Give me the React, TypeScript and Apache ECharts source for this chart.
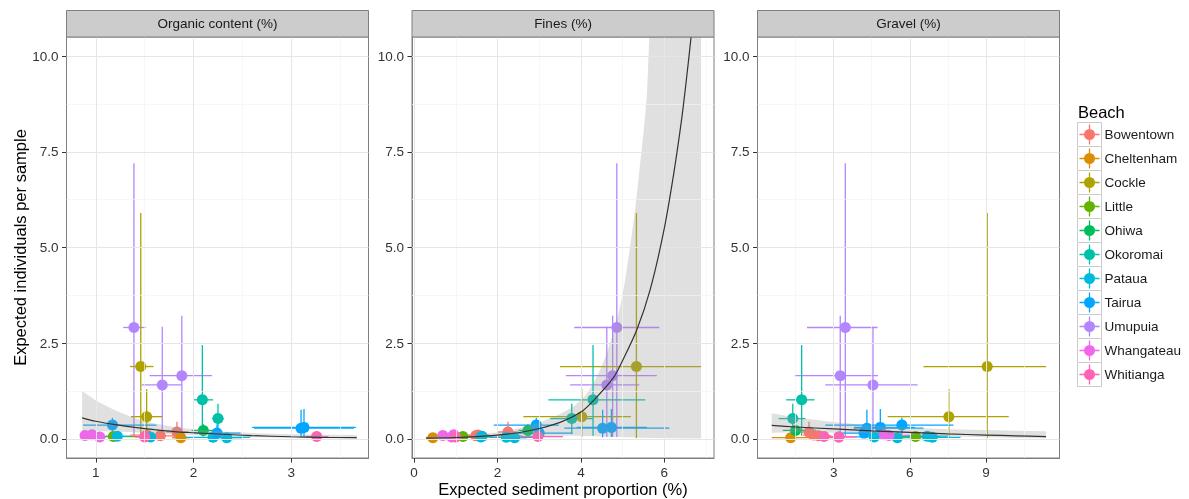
import React, { useEffect, useRef } from "react";
import * as echarts from "echarts";

// ---------- data ----------
const beaches = ["Bowentown", "Cheltenham", "Cockle", "Little", "Ohiwa", "Okoromai", "Pataua", "Tairua", "Umupuia", "Whangateau", "Whitianga"];
const beachColors = ["#F8766D", "#DB8E00", "#AEA200", "#64B200", "#00BD5C", "#00C1A7", "#00BADE", "#00A6FF", "#B385FF", "#EF67EB", "#FF63B6"];

const panelTitles = ["Organic content (%)", "Fines (%)", "Gravel (%)"];

// one entry per sample (same response in every panel)
const sampleBeach = [8, 8, 8, 2, 2, 5, 5, 7, 7, 7, 4, 0, 0, 0, 1, 9, 9, 9, 3, 6, 6, 6, 6, 7, 10, 10];
const sampleY = [2.91, 1.65, 1.41, 1.89, 0.58, 1.02, 0.53, 0.30, 0.28, 0.36, 0.22, 0.18, 0.10, 0.08, 0.03, 0.09, 0.11, 0.05, 0.06, 0.07, 0.04, 0.03, 0.05, 0.15, 0.06, 0.05];
const sampleYLo = [0.05, 0.05, 0.05, 0.02, 0.05, 0.08, 0.14, 0.05, 0.04, 0.12, 0.06, 0.04, 0.02, 0.02, 0.0, 0.03, 0.04, 0.01, 0.02, 0.02, 0.01, 0.0, 0.01, 0.04, 0.01, 0.01];
const sampleYHi = [7.2, 3.22, 2.93, 5.9, 1.3, 2.45, 0.92, 0.78, 0.76, 0.55, 0.38, 0.45, 0.2, 0.16, 0.06, 0.16, 0.2, 0.1, 0.1, 0.14, 0.08, 0.07, 0.1, 0.38, 0.12, 0.1];

const organicX = [1.39, 1.88, 1.68, 1.46, 1.52, 2.09, 2.25, 3.13, 3.1, 1.17, 2.1, 1.83, 1.52, 1.66, 1.87, 0.89, 0.96, 1.04, 1.18, 1.22, 2.2, 2.34, 1.56, 2.24, 3.26, 1.5];
const organicLo = [1.28, 1.55, 1.47, 1.35, 1.36, 2.0, 2.19, 2.6, 2.62, 0.87, 1.98, 1.72, 1.35, 1.5, 1.78, 0.85, 0.9, 0.98, 1.03, 1.1, 1.82, 2.2, 1.45, 2.0, 3.15, 1.4];
const organicHi = [1.51, 2.19, 1.88, 1.59, 1.68, 2.2, 2.31, 3.66, 3.64, 1.62, 2.22, 1.95, 1.7, 1.85, 1.96, 0.95, 1.02, 1.1, 1.54, 1.35, 2.58, 2.5, 1.7, 2.48, 3.38, 1.62];

const finesX = [4.86, 4.76, 4.62, 5.33, 4.02, 4.29, 3.78, 4.73, 4.52, 2.93, 2.73, 2.25, 1.53, 1.48, 0.45, 0.69, 0.95, 0.9, 1.17, 1.63, 2.21, 2.41, 1.6, 3.0, 2.97, 1.0];
const finesLo = [3.84, 3.64, 3.74, 3.5, 2.62, 3.22, 3.26, 3.9, 3.6, 1.91, 2.5, 2.0, 1.3, 1.22, 0.28, 0.6, 0.85, 0.8, 1.0, 1.45, 1.8, 2.1, 1.35, 2.5, 2.4, 0.8];
const finesHi = [5.88, 5.82, 5.4, 6.88, 5.2, 5.54, 4.29, 5.58, 6.12, 3.47, 2.95, 2.5, 1.8, 2.6, 0.52, 0.8, 1.05, 1.0, 1.35, 1.8, 3.0, 2.7, 1.9, 3.8, 3.57, 1.2];

const gravelX = [3.46, 3.26, 4.55, 9.05, 7.54, 1.74, 1.39, 4.84, 4.31, 5.69, 1.5, 2.03, 2.2, 2.4, 1.31, 5.18, 5.0, 3.2, 6.23, 6.69, 6.89, 5.51, 4.6, 4.2, 2.62, 3.21];
const gravelLo = [1.95, 1.46, 2.67, 6.54, 5.13, 1.13, 0.83, 3.8, 3.79, 2.67, 1.0, 1.7, 1.8, 1.9, 0.56, 4.5, 4.3, 2.7, 5.5, 5.9, 6.0, 4.8, 3.8, 3.2, 2.2, 2.6];
const gravelHi = [4.73, 4.75, 6.31, 11.37, 9.9, 2.25, 1.89, 6.2, 6.54, 7.72, 2.3, 2.4, 2.7, 2.9, 3.0, 6.0, 5.6, 3.8, 7.2, 7.5, 8.0, 6.3, 5.5, 5.3, 3.1, 3.9];

// fitted curves and confidence ribbons
const curve1X = [0.86, 1.0, 1.2, 1.4, 1.6, 1.8, 2.0, 2.3, 2.6, 3.0, 3.3, 3.67];
const curve1Y = [0.55, 0.46, 0.37, 0.3, 0.24, 0.19, 0.16, 0.12, 0.085, 0.055, 0.04, 0.03];
const band1Hi = [1.25, 1.0, 0.74, 0.54, 0.4, 0.31, 0.25, 0.19, 0.15, 0.12, 0.11, 0.1];
const band1Lo = [0.2, 0.2, 0.19, 0.17, 0.14, 0.12, 0.1, 0.07, 0.045, 0.025, 0.015, 0.008];

const curve2X = [0.29, 1.0, 1.5, 2.0, 2.5, 3.0, 3.5, 4.0, 4.3, 4.78, 5.0, 5.34, 5.66, 5.98, 6.22, 6.42, 6.54, 6.64, 6.7];
const curve2Y = [0.02, 0.035, 0.06, 0.1, 0.16, 0.27, 0.43, 0.7, 1.0, 1.6, 2.05, 2.85, 3.9, 5.4, 6.9, 8.4, 9.5, 10.5, 11.2];
const band2X = [0.29, 1.0, 1.5, 2.0, 2.5, 3.0, 3.5, 3.82, 4.1, 4.3, 4.46, 4.62, 4.78, 4.94, 5.06, 5.18, 5.3, 5.42, 5.5, 5.58, 5.64, 6.88];
const band2Hi = [0.06, 0.08, 0.11, 0.17, 0.27, 0.42, 0.65, 0.84, 1.12, 1.45, 1.8, 2.24, 2.78, 3.45, 4.15, 5.02, 6.0, 7.2, 8.0, 8.94, 10.5, 10.5];
const band2Lo = [0.005, 0.012, 0.02, 0.035, 0.05, 0.07, 0.08, 0.08, 0.075, 0.07, 0.065, 0.06, 0.055, 0.05, 0.045, 0.04, 0.035, 0.03, 0.028, 0.025, 0.02, 0.01];

const curve3X = [0.56, 1.5, 3.0, 4.5, 6.0, 7.5, 9.0, 10.2, 11.37];
const curve3Y = [0.35, 0.31, 0.26, 0.21, 0.17, 0.13, 0.1, 0.08, 0.06];
const band3Hi = [0.67, 0.56, 0.44, 0.35, 0.29, 0.25, 0.23, 0.21, 0.2];
const band3Lo = [0.16, 0.17, 0.16, 0.14, 0.11, 0.07, 0.04, 0.025, 0.015];

// axes
const yRange = [-0.5, 10.5];
const yTicks = [0, 2.5, 5, 7.5, 10];
const yMinor = [1.25, 3.75, 6.25, 8.75];
const xRanges = [[0.7, 3.79], [-0.05, 7.19], [0.0, 11.9]];
const xTicks = [[1, 2, 3], [0, 2, 4, 6], [3, 6, 9]];
const xMinor = [[1.5, 2.5, 3.5], [1, 3, 5, 7], [1.5, 4.5, 7.5, 10.5]];

// ---------- layout ----------
const PANEL_LEFT = [66.5, 412, 757.5];
const PANEL_W = 302;
const PANEL_TOP = 37;
const PANEL_H = 421;
const STRIP_TOP = 10.5;
const FONT = "'Liberation Sans', Arial, Helvetica, sans-serif";

export default function App() {
  const ref = useRef<HTMLDivElement>(null);

  useEffect(() => {
    const chart = echarts.init(ref.current as HTMLDivElement, null, { renderer: "svg" });

    const panels = [
      { x: organicX, lo: organicLo, hi: organicHi, cx: curve1X, cy: curve1Y, bx: curve1X, bLo: band1Lo, bHi: band1Hi },
      { x: finesX, lo: finesLo, hi: finesHi, cx: curve2X, cy: curve2Y, bx: band2X, bLo: band2Lo, bHi: band2Hi },
      { x: gravelX, lo: gravelLo, hi: gravelHi, cx: curve3X, cy: curve3Y, bx: curve3X, bLo: band3Lo, bHi: band3Hi },
    ];

    const grids: any[] = [];
    const xAxes: any[] = [];
    const yAxes: any[] = [];
    const series: any[] = [];
    const graphics: any[] = [];

    const majorStyle = { color: "#e6e6e6", width: 1, type: "solid" };
    const minorStyle = { color: "#f3f3f3", width: 0.7, type: "solid" };

    panels.forEach((pn, p) => {
      grids.push({
        left: PANEL_LEFT[p], top: PANEL_TOP, width: PANEL_W, height: PANEL_H,
        show: true, backgroundColor: "#ffffff", borderColor: "#7f7f7f", borderWidth: 1, containLabel: false,
      });
      xAxes.push({
        type: "value", gridIndex: p, min: xRanges[p][0], max: xRanges[p][1],
        axisLine: { show: true, onZero: false, lineStyle: { color: "#7f7f7f", width: 1 } },
        axisTick: { show: true, customValues: xTicks[p], length: 4.5, lineStyle: { color: "#333333", width: 1 } },
        axisLabel: { customValues: xTicks[p], formatter: (v: number) => String(v), fontSize: 13.5, color: "#333333", margin: 7, fontFamily: FONT },
        splitLine: { show: false },
      });
      yAxes.push({
        type: "value", gridIndex: p, min: yRange[0], max: yRange[1],
        axisLine: { show: true, onZero: false, lineStyle: { color: "#7f7f7f", width: 1 } },
        axisTick: { show: true, customValues: yTicks, length: 4.5, lineStyle: { color: "#333333", width: 1 } },
        axisLabel: { customValues: yTicks, formatter: (v: number) => v.toFixed(1), fontSize: 13.5, color: "#333333", margin: 8, fontFamily: FONT },
        splitLine: { show: false },
      });

      // grid lines
      series.push({
        type: "line", xAxisIndex: p, yAxisIndex: p, data: [], z: 1, silent: true,
        markLine: {
          silent: true, symbol: ["none", "none"], label: { show: false }, animation: false,
          emphasis: { disabled: true },
          data: [
            ...yMinor.map((v) => ({ yAxis: v, lineStyle: minorStyle })),
            ...xMinor[p].map((v) => ({ xAxis: v, lineStyle: minorStyle })),
            ...yTicks.map((v) => ({ yAxis: v, lineStyle: majorStyle })),
            ...xTicks[p].map((v) => ({ xAxis: v, lineStyle: majorStyle })),
          ],
        },
      });

      // error bars
      series.push({
        type: "custom", xAxisIndex: p, yAxisIndex: p, z: 2, silent: true,
        encode: { x: [0, 1, 2], y: [3, 4, 5] },
        data: sampleBeach.map((b, i) => [pn.x[i], pn.lo[i], pn.hi[i], sampleY[i], sampleYLo[i], sampleYHi[i], b]),
        renderItem: (params: any, api: any) => {
          const x = api.value(0), lo = api.value(1), hi = api.value(2);
          const y = api.value(3), ylo = api.value(4), yhi = api.value(5);
          const c = beachColors[api.value(6)];
          const a = api.coord([lo, y]), b2 = api.coord([hi, y]);
          const c1 = api.coord([x, ylo]), c2 = api.coord([x, yhi]);
          return {
            type: "group",
            children: [
              { type: "line", shape: { x1: a[0], y1: a[1], x2: b2[0], y2: b2[1] }, style: { stroke: c, lineWidth: 1.3 } },
              { type: "line", shape: { x1: c1[0], y1: c1[1], x2: c2[0], y2: c2[1] }, style: { stroke: c, lineWidth: 1.3 } },
            ],
          };
        },
      });

      // points
      beaches.forEach((name, b) => {
        const pts: number[][] = [];
        sampleBeach.forEach((sb, i) => { if (sb === b) pts.push([pn.x[i], sampleY[i]]); });
        series.push({
          type: "scatter", name, xAxisIndex: p, yAxisIndex: p, data: pts, symbol: "circle", symbolSize: 11,
          itemStyle: { color: beachColors[b], opacity: 1 }, z: 3, silent: true, emphasis: { disabled: true },
        });
      });

      // confidence ribbon
      series.push({
        type: "custom", xAxisIndex: p, yAxisIndex: p, z: 4, silent: true, clip: true,
        data: [[pn.bx[0], pn.bHi[0]]],
        renderItem: (params: any, api: any) => {
          const up = pn.bx.map((x, k) => api.coord([x, pn.bHi[k]]));
          const dn = pn.bx.map((x, k) => api.coord([x, pn.bLo[k]])).reverse();
          return { type: "polygon", shape: { points: up.concat(dn) }, style: { fill: "#999999", opacity: 0.3 } };
        },
      });

      // fitted curve
      series.push({
        type: "line", xAxisIndex: p, yAxisIndex: p, z: 5, silent: true,
        data: pn.cx.map((x, k) => [x, pn.cy[k]]),
        showSymbol: false, smooth: 0.3,
        lineStyle: { color: "#333333", width: 1.2 }, itemStyle: { color: "#333333" },
        emphasis: { disabled: true },
      });

      // strip
      graphics.push({
        type: "rect", shape: { x: PANEL_LEFT[p], y: STRIP_TOP, width: PANEL_W, height: PANEL_TOP - STRIP_TOP },
        style: { fill: "#cccccc", stroke: "#7f7f7f", lineWidth: 1 }, z: 10,
      });
      graphics.push({
        type: "text", x: PANEL_LEFT[p] + PANEL_W / 2, y: (STRIP_TOP + PANEL_TOP) / 2, z: 11,
        style: { text: panelTitles[p], fontSize: 13.5, fontFamily: FONT, fill: "#1a1a1a", align: "center", verticalAlign: "middle" },
      });
    });

    // axis titles
    graphics.push({
      type: "text", x: 563, y: 489, z: 11,
      style: { text: "Expected sediment proportion (%)", fontSize: 16.5, fontFamily: FONT, fill: "#000", align: "center", verticalAlign: "middle" },
    });
    graphics.push({
      type: "text", x: 20, y: 247.5, rotation: Math.PI / 2, z: 11,
      style: { text: "Expected individuals per sample", fontSize: 16.5, fontFamily: FONT, fill: "#000", align: "center", verticalAlign: "middle" },
    });

    // legend title and key boxes
    graphics.push({
      type: "text", x: 1078, y: 112, z: 11,
      style: { text: "Beach", fontSize: 16.5, fontFamily: FONT, fill: "#000", align: "left", verticalAlign: "middle" },
    });
    beaches.forEach((_, i) => {
      graphics.push({
        type: "rect", shape: { x: 1077.5, y: 122.5 + i * 24, width: 24, height: 24 },
        style: { fill: "#ffffff", stroke: "#cccccc", lineWidth: 1 }, z: 0,
      });
    });

    const icon =
      "path://M0,9.35H20V10.65H0Z M9.35,0H10.65V20H9.35Z M15.5,10A5.5,5.5,0,1,1,4.5,10A5.5,5.5,0,1,1,15.5,10Z";

    chart.setOption({
      animation: false,
      textStyle: { fontFamily: FONT },
      grid: grids,
      xAxis: xAxes,
      yAxis: yAxes,
      legend: {
        data: beaches, orient: "vertical", left: 1079.5, top: 124.5, itemWidth: 20, itemHeight: 20, itemGap: 4,
        padding: 0, icon, selectedMode: false,
        textStyle: { fontSize: 13.5, color: "#1a1a1a", fontFamily: FONT },
      },
      graphic: { elements: graphics },
      series,
    });

    return () => chart.dispose();
  }, []);

  return <div ref={ref} style={{ position: "fixed", left: 0, top: 0, width: 1189, height: 499 }} />;
}
